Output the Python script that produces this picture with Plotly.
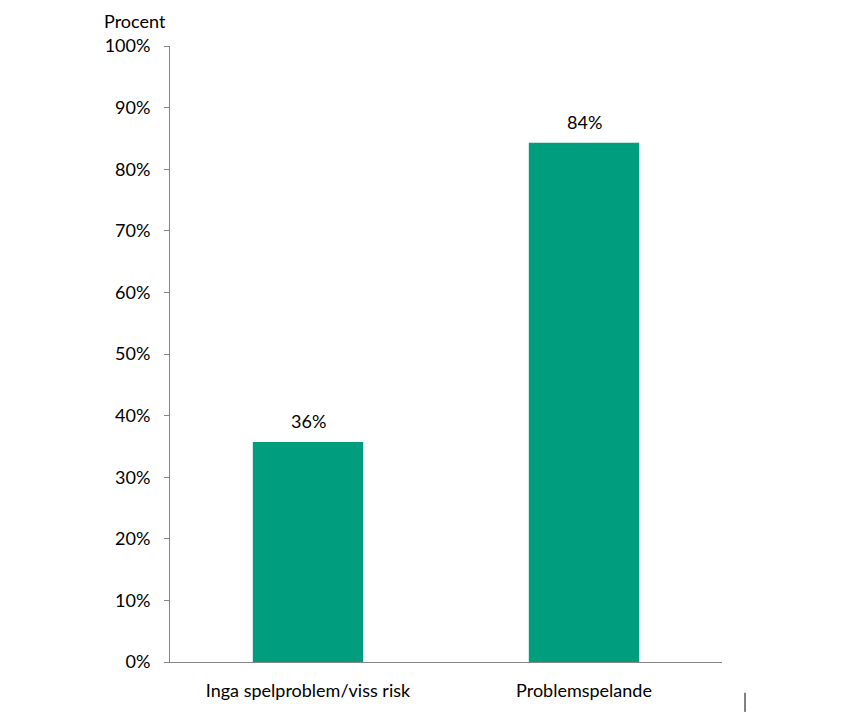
import plotly.graph_objects as go

categories = ["Inga spelproblem/viss risk", "Problemspelande"]
values = [35.7, 84.3]
value_labels = ["36%", "84%"]
y_ticks = list(range(0, 101, 10))
y_tick_labels = [f"{t}%" for t in y_ticks]

BAR_COLOR = "#009E7E"
AXIS_COLOR = "#868686"
FONT = dict(family="Lato, 'Noto Sans', sans-serif", size=18, color="#000000")

fig = go.Figure()
fig.add_trace(
    go.Bar(
        x=categories,
        y=values,
        marker=dict(color=BAR_COLOR, line=dict(width=0)),
        width=0.4,
        hoverinfo="skip",
    )
)

# data labels above bars
for cat, val, lab in zip(categories, values, value_labels):
    fig.add_annotation(
        x=cat, y=val, text=lab, showarrow=False,
        yanchor="middle", yshift=21, font=FONT,
    )

fig.add_annotation(
    xref="paper", yref="paper", x=-0.063, y=1.041,
    xanchor="center", yanchor="middle",
    text="Procent", showarrow=False, font=FONT,
)

# small stray vertical mark bottom right
fig.add_shape(
    type="line", xref="paper", yref="paper",
    x0=1.0417, x1=1.0417, y0=-0.050, y1=-0.081,
    line=dict(color="#000000", width=1),
)

fig.update_xaxes(
    showline=True, linecolor=AXIS_COLOR, linewidth=1,
    ticks="", showgrid=False, tickfont=FONT, ticklabelstandoff=12,
)
fig.update_yaxes(
    range=[0, 100], tickvals=y_ticks, ticktext=y_tick_labels,
    showline=True, linecolor=AXIS_COLOR, linewidth=1,
    ticks="outside", ticklen=5, tickcolor=AXIS_COLOR,
    showgrid=False, zeroline=False, tickfont=FONT, ticklabelstandoff=10,
)
fig.update_layout(
    width=841, height=715,
    margin=dict(l=162, r=127, t=38, b=61),
    plot_bgcolor="white", paper_bgcolor="white",
    showlegend=False, font=FONT,
)

fig.write_html("out.html")
